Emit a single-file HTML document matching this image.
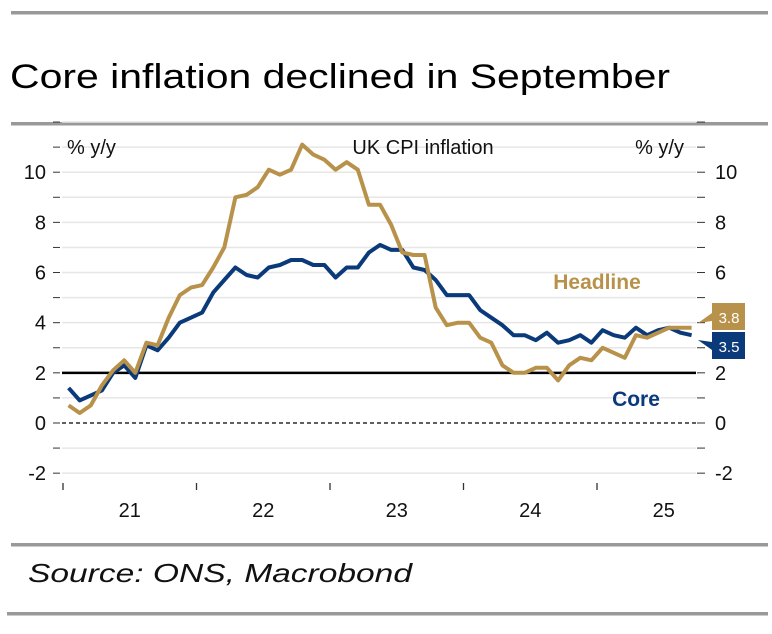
<!DOCTYPE html>
<html><head><meta charset="utf-8"><style>
html,body{margin:0;padding:0;background:#fff;}
svg{display:block;font-family:"Liberation Sans",sans-serif;}
</style></head><body>
<svg id="c" width="772" height="634" viewBox="0 0 772 634">
<rect x="11" y="11" width="757" height="3.5" fill="#999"/>
<text x="10" y="88" font-size="34" textLength="660" lengthAdjust="spacingAndGlyphs" fill="#000">Core inflation declined in September</text>
<rect x="11" y="122" width="757" height="3.5" fill="#999"/>
<g id="grid"></g>
<g id="axes"></g>
<g id="series"></g>
<text x="67" y="154" font-size="20" fill="#111">% y/y</text>
<text x="423" y="154" font-size="20" text-anchor="middle" fill="#111">UK CPI inflation</text>
<text x="684" y="154" font-size="20" text-anchor="end" fill="#111">% y/y</text>
<text x="597" y="289" font-size="21" font-weight="bold" text-anchor="middle" fill="#b8924a">Headline</text>
<text x="636" y="406" font-size="21" font-weight="bold" text-anchor="middle" fill="#0a3a7a">Core</text>
<g id="tags"></g>
<rect x="11" y="543" width="757" height="3.5" fill="#999"/>
<text x="28" y="582" font-size="26" font-style="italic" textLength="384" lengthAdjust="spacingAndGlyphs" fill="#111">Source: ONS, Macrobond</text>
<rect x="7" y="612" width="761" height="3.5" fill="#999"/>
</svg>
<script>
const yearLabels = ["21","22","23","24","25"];
const yTicks = [-2,0,2,4,6,8,10];
const headline = [0.7,0.4,0.7,1.5,2.1,2.5,2.0,3.2,3.1,4.2,5.1,5.4,
 5.5,6.2,7.0,9.0,9.1,9.4,10.1,9.9,10.1,11.1,10.7,10.5,
 10.1,10.4,10.1,8.7,8.7,7.9,6.8,6.7,6.7,4.6,3.9,4.0,
 4.0,3.4,3.2,2.3,2.0,2.0,2.2,2.2,1.7,2.3,2.6,2.5,
 3.0,2.8,2.6,3.5,3.4,3.6,3.8,3.8,3.8];
const core = [1.4,0.9,1.1,1.3,2.0,2.3,1.8,3.1,2.9,3.4,4.0,4.2,
 4.4,5.2,5.7,6.2,5.9,5.8,6.2,6.3,6.5,6.5,6.3,6.3,
 5.8,6.2,6.2,6.8,7.1,6.9,6.9,6.2,6.1,5.7,5.1,5.1,
 5.1,4.5,4.2,3.9,3.5,3.5,3.3,3.6,3.2,3.3,3.5,3.2,
 3.7,3.5,3.4,3.8,3.5,3.7,3.8,3.6,3.5];
const target = [2];

const NS="http://www.w3.org/2000/svg";
const X0=63, PXY=133.5;
const xm = i => X0 + (i+0.5)*PXY/12;
const y = v => 423 - v*25.08;
function mk(tag, attrs, parent){const e=document.createElementNS(NS,tag);for(const k in attrs)e.setAttribute(k,attrs[k]);parent.appendChild(e);return e;}
const grid=document.getElementById('grid'), axes=document.getElementById('axes'), ser=document.getElementById('series'), tags=document.getElementById('tags');

for(let v=-2; v<=12; v++){
  if(v===0||v===2) continue;
  const l=mk('line',{x1:62,x2:696,y1:y(v),y2:y(v),stroke:'#e6e6e6','stroke-width':1.5},grid);
  
  
}
for(let v=-2; v<=12; v++){
  const a=mk('line',{x1:53,x2:60,y1:y(v),y2:y(v),stroke:'#333','stroke-width':1},axes);
  
  
  const b=mk('line',{x1:697,x2:705,y1:y(v),y2:y(v),stroke:'#333','stroke-width':1},axes);
  
  
}
yTicks.forEach(v=>{
  const t=mk('text',{x:46,y:y(v)+7,'font-size':20,'text-anchor':'end',fill:'#111'},axes);
  t.textContent=v;
  
  
  const r=mk('text',{x:715,y:y(v)+7,'font-size':20,fill:'#111'},axes);
  r.textContent=v;
  
  
});
yearLabels.forEach((lab,i)=>{
  const tk=mk('line',{x1:X0+i*PXY,x2:X0+i*PXY,y1:483,y2:490,stroke:'#333','stroke-width':1.3},axes);
  
  
  const t=mk('text',{x:X0+(i+0.5)*PXY,y:517,'font-size':20,'text-anchor':'middle',fill:'#111'},axes);
  t.textContent=lab;
  
  
});
const zl=mk('line',{x1:62,x2:696,y1:y(0),y2:y(0),stroke:'#000','stroke-width':1.3,'stroke-dasharray':'4,3'},ser);


const tl=mk('line',{x1:62,x2:696,y1:y(target[0]),y2:y(target[0]),stroke:'#000','stroke-width':2.5},ser);



function line(data,color,name){
  const p=mk('polyline',{points:data.map((v,i)=>xm(i).toFixed(1)+','+y(v).toFixed(1)).join(' '),fill:'none',stroke:color,'stroke-width':4,'stroke-linejoin':'round'},ser);
  
  
}
line(core,'#0a3a7a','core-line');
line(headline,'#b8924a','headline-line');

function tag(v,top,color,name,tipY){
  const g=mk('g',{},tags);
  
  
  mk('path',{d:`M712 ${top} H745 V${top+27} H712 V${top+18} L698 ${tipY} L712 ${top+10} Z`,fill:color},g);
  const t=mk('text',{x:729,y:top+20,'font-size':15,'text-anchor':'middle',fill:'#fff'},g);
  t.textContent=v.toFixed(1);
}
tag(headline[headline.length-1],303,'#b8924a','headline-end-tag',323);
tag(core[core.length-1],332,'#0a3a7a','core-end-tag',340);
</script>
</body></html>
